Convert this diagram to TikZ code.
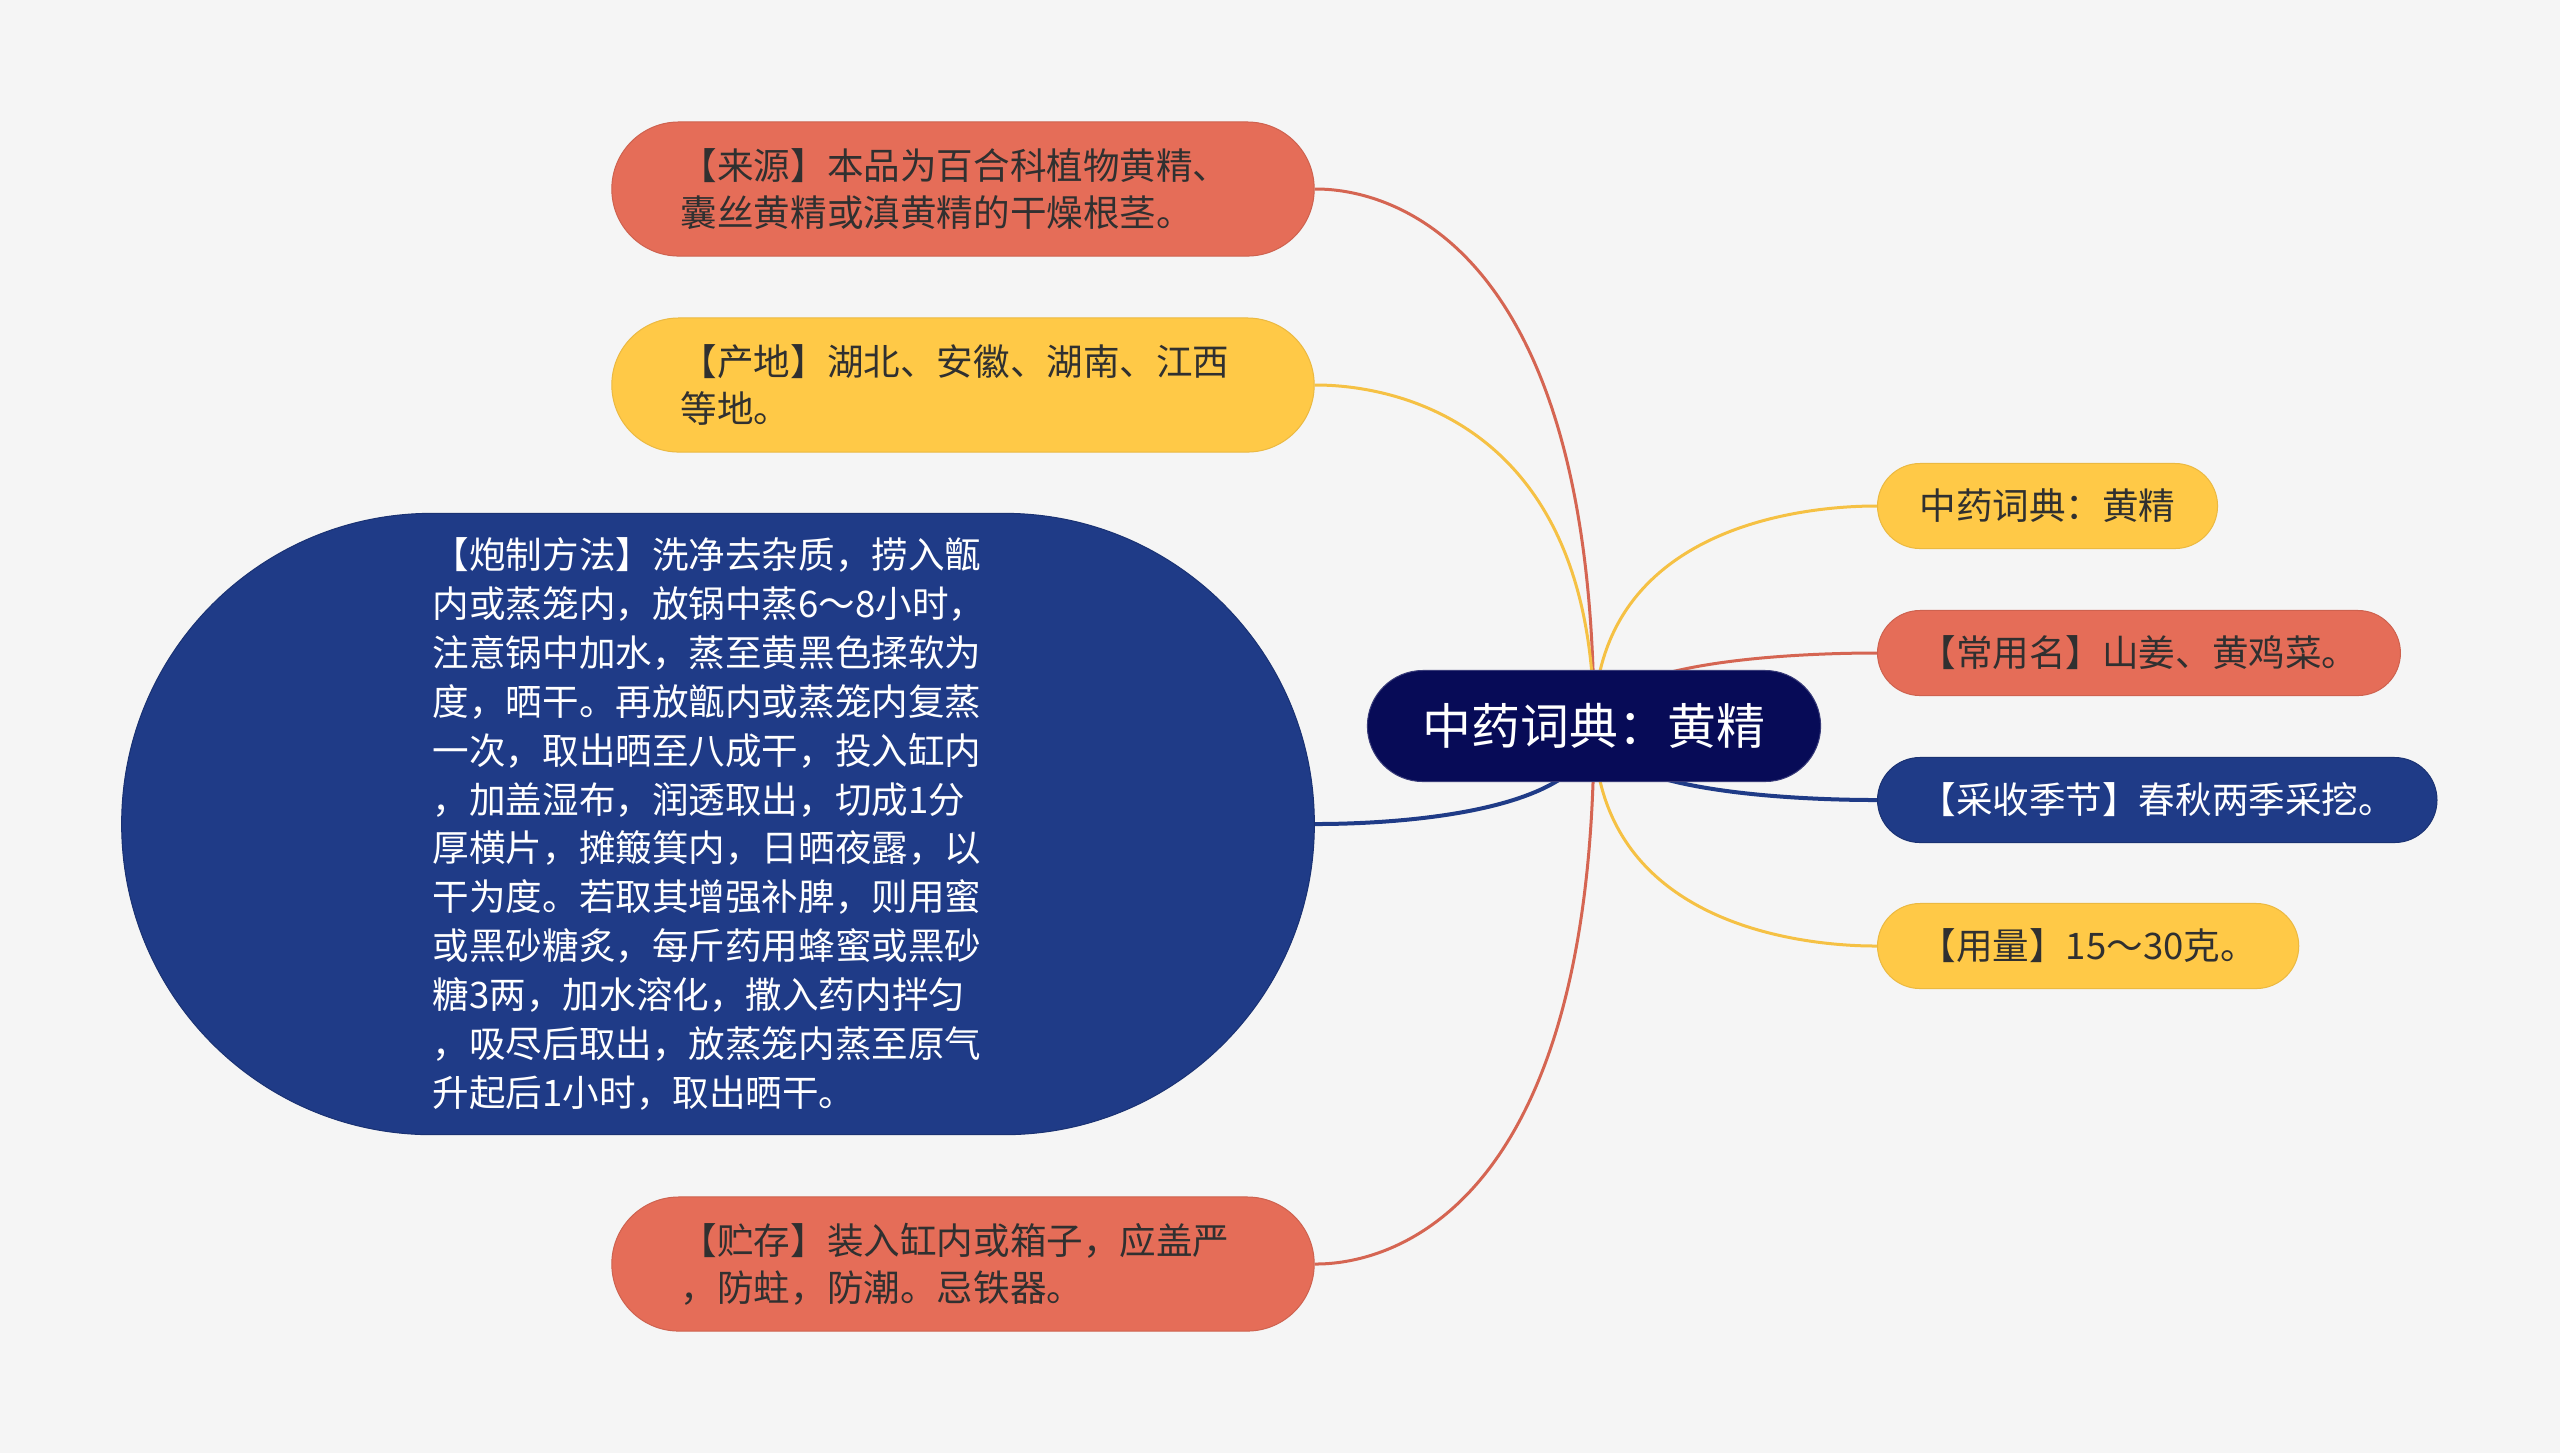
\documentclass[tikz,border=0pt]{standalone}
\usepackage{fontspec}
\setmainfont{Noto Sans CJK SC}
\usetikzlibrary{calc,backgrounds}
\definecolor{bgcol}{HTML}{F5F5F5}
\definecolor{rootcol}{HTML}{070B57}
\definecolor{redcol}{HTML}{E56D58}
\definecolor{yelcol}{HTML}{FFC947}
\definecolor{bluecol}{HTML}{1F3B87}
\definecolor{inkcol}{HTML}{303030}
\tikzset{
  leaf/.style={rounded corners=0.425cm, minimum height=0.85cm, inner xsep=0.42cm,
    inner ysep=0pt, anchor=west, font=\fontsize{10.4pt}{13pt}\selectfont},
  box/.style={rounded corners=0.67cm, minimum width=7.02cm, minimum height=1.34cm,
    text width=5.64cm, align=left, inner sep=0pt, font=\fontsize{10.4pt}{13.4pt}\selectfont},
  redbox/.style={fill=redcol, draw=redcol!90!black, line width=0.01cm, text=inkcol},
  yelbox/.style={fill=yelcol, draw=yelcol!92!black, line width=0.01cm, text=inkcol},
  bluebox/.style={fill=bluecol, draw=bluecol!85!black, line width=0.01cm, text=white},
  redline/.style={draw=redcol!93!black, line width=0.03cm},
  yelline/.style={draw=yelcol!96!black, line width=0.03cm},
  blueline/.style={draw=bluecol, line width=0.04cm},
}
\begin{document}
\begin{tikzpicture}[x=0.01cm,y=-0.01cm,line cap=round,line join=round]
  \useasboundingbox (0,0) rectangle (2560,1453);
  % root
  \node[fill=rootcol, draw=rootcol!80!white, line width=0.01cm, text=white,
    rounded corners=0.555cm, minimum width=4.53cm, minimum height=1.11cm, inner sep=0pt,
    font=\fontsize{13.9pt}{16pt}\selectfont] (root) at (1594,726) {中药词典：黄精};
  \coordinate (hub) at (1594,726);
  % left branches
  \node[box, redbox] (laiyuan) at (963,189)
    {【来源】本品为百合科植物黄精、\\囊丝黄精或滇黄精的干燥根茎。};
  \node[box, yelbox] (chandi) at (963,385)
    {【产地】湖北、安徽、湖南、江西\\等地。};
  \node[box, bluebox, minimum width=11.92cm, minimum height=6.21cm, rounded corners=3.1cm,
    text width=5.7cm, font=\fontsize{10.4pt}{13.9pt}\selectfont] (paozhi) at (718,824)
    {【炮制方法】洗净去杂质，捞入甑\\
     内或蒸笼内，放锅中蒸6～8小时，\\
     注意锅中加水，蒸至黄黑色揉软为\\
     度，晒干。再放甑内或蒸笼内复蒸\\
     一次，取出晒至八成干，投入缸内\\
     ，加盖湿布，润透取出，切成1分\\
     厚横片，摊簸箕内，日晒夜露，以\\
     干为度。若取其增强补脾，则用蜜\\
     或黑砂糖炙，每斤药用蜂蜜或黑砂\\
     糖3两，加水溶化，撒入药内拌匀\\
     ，吸尽后取出，放蒸笼内蒸至原气\\
     升起后1小时，取出晒干。};
  \node[box, redbox] (zhucun) at (963,1264)
    {【贮存】装入缸内或箱子，应盖严\\，防蛀，防潮。忌铁器。};
  % right branches
  \node[leaf, yelbox] (cidian) at (1877,506) {中药词典：黄精};
  \node[leaf, redbox] (changyong) at (1877,653) {【常用名】山姜、黄鸡菜。};
  \node[leaf, bluebox] (caishou) at (1877,800) {【采收季节】春秋两季采挖。};
  \node[leaf, yelbox] (yongliang) at (1877,946) {【用量】15～30克。};
  % connectors behind the boxes
  \begin{pgfonlayer}{background}
    \fill[bgcol] (0,0) rectangle (2560,1453);
    \draw[redline] (hub) .. controls (hub |- laiyuan.east) and ($(hub |- laiyuan.east)!0.9!(laiyuan.east)$) .. (laiyuan.east);
    \draw[yelline] (hub) .. controls (hub |- chandi.east) and ($(hub |- chandi.east)!0.9!(chandi.east)$) .. (chandi.east);
    \draw[blueline] (hub) .. controls (hub |- paozhi.east) and ($(hub |- paozhi.east)!0.9!(paozhi.east)$) .. (paozhi.east);
    \draw[redline] (hub) .. controls (hub |- zhucun.east) and ($(hub |- zhucun.east)!0.9!(zhucun.east)$) .. (zhucun.east);
    \draw[yelline] (hub) .. controls (hub |- cidian.west) and ($(hub |- cidian.west)!0.9!(cidian.west)$) .. (cidian.west);
    \draw[redline] (hub) .. controls (hub |- changyong.west) and ($(hub |- changyong.west)!0.9!(changyong.west)$) .. (changyong.west);
    \draw[blueline] (hub) .. controls (hub |- caishou.west) and ($(hub |- caishou.west)!0.9!(caishou.west)$) .. (caishou.west);
    \draw[yelline] (hub) .. controls (hub |- yongliang.west) and ($(hub |- yongliang.west)!0.9!(yongliang.west)$) .. (yongliang.west);
  \end{pgfonlayer}
\end{tikzpicture}
\end{document}
